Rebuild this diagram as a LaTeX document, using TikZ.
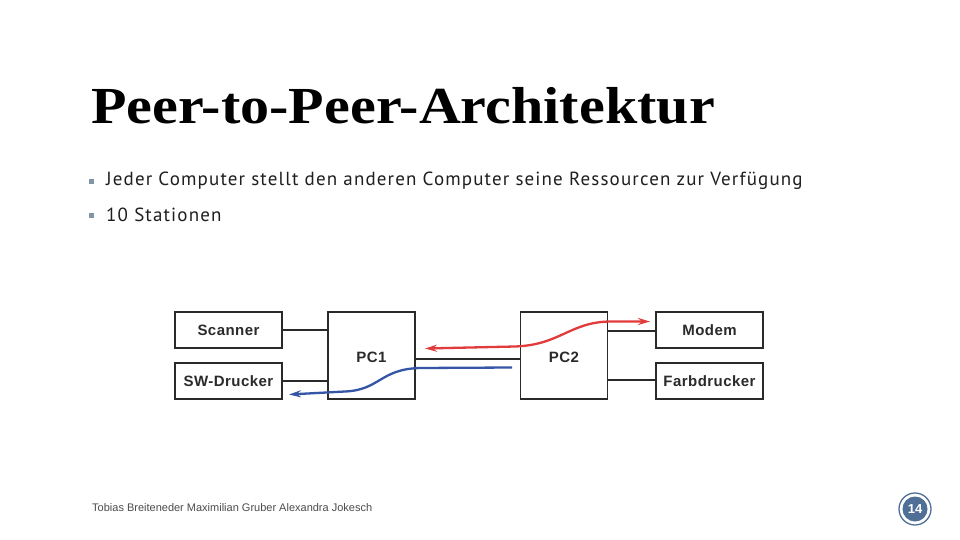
\documentclass[tikz,border=0pt]{standalone}
\usepackage{fontspec}
\setmainfont{Liberation Serif}
\newfontfamily\bodyfont[LetterSpace=6]{PT Sans}
\newfontfamily\diafont[LetterSpace=3]{Liberation Sans}
\newfontfamily\footfont{Liberation Sans}
\usetikzlibrary{arrows.meta}
\definecolor{boxline}{HTML}{2A2A2A}
\definecolor{bulletc}{HTML}{8096A8}
\definecolor{pgblue}{HTML}{4F6F96}
\definecolor{redarr}{HTML}{E23B3B}
\definecolor{bluearr}{HTML}{3556A6}
\tikzset{
  devbox/.style={draw=boxline, line width=1.4pt, minimum width=107pt, minimum height=36pt, inner sep=0pt, font=\diafont\bfseries\fontsize{15}{17}\selectfont, text=boxline},
  pcbox/.style={draw=boxline, line width=1.4pt, minimum width=87pt, minimum height=87pt, inner sep=0pt},
  pclabel/.style={font=\diafont\bfseries\fontsize{15}{17}\selectfont, text=boxline, inner sep=0pt},
  thinlink/.style={draw=boxline, line width=1.3pt},
  thicklink/.style={draw=boxline, line width=2.2pt},
  bullettext/.style={anchor=west, inner sep=0pt, font=\bodyfont\fontsize{19}{21}\selectfont, text=black!88},
  bulletsq/.style={fill=bulletc, minimum size=4.5pt, inner sep=0pt},
  flow/.style={line width=2.3pt, -{Stealth[length=12pt,width=7pt]}},
}
\begin{document}
\begin{tikzpicture}[x=1pt,y=-1pt]
\useasboundingbox (0,0) rectangle (960,540);
\fill[white] (0,0) rectangle (960,540);
% title
\node[anchor=west, inner sep=0pt, font=\bfseries\fontsize{52}{56}\selectfont] (title) at (91,106) {\scalebox{1.117}[1]{Peer-to-Peer-Architektur}};
% bullets
\node[bulletsq] (b1) at (91.5,181.5) {};
\node[bullettext] (t1) at (106,181) {Jeder Computer stellt den anderen Computer seine Ressourcen zur Verfügung};
\node[bulletsq] (b2) at (91.5,215.5) {};
\node[bullettext] (t2) at (106,215) {10 Stationen};
% boxes
\node[devbox] (scan) at (228.5,330) {Scanner};
\node[devbox] (swd) at (228.5,381) {SW-Drucker};
\node[pcbox] (pc1) at (371.5,355.5) {};
\node[pclabel] (pc1l) at (371.5,357) {PC1};
\node[pcbox] (pc2) at (564,355.5) {};
\node[pclabel] (pc2l) at (564,357) {PC2};
\node[devbox] (modem) at (709.5,330) {Modem};
\node[devbox] (farb) at (709.5,381) {Farbdrucker};
% links
\draw[thinlink] (scan.east) -- (scan.east -| pc1.west);
\draw[thicklink] (swd.east) -- (swd.east -| pc1.west);
\draw[thicklink] (pc1.east |- 0,359) coordinate (l1) -- (pc2.west |- 0,359) coordinate (l2);
\draw[thinlink] (pc2.east |- 0,331) coordinate (m1) -- (modem.west |- 0,331) coordinate (m2);
\draw[thicklink] (pc2.east |- 0,380) coordinate (f1) -- (farb.west |- 0,380) coordinate (f2);
% flows
\coordinate (rL) at (425,348.5);
\coordinate (rR) at (650,321.5);
\draw[flow, redarr, {Stealth[length=12pt,width=7pt]}-{Stealth[length=12pt,width=7pt]}] (rL) -- (515,346.5) .. controls (560,345) and (570,322) .. (610,321.5) -- (rR);
\coordinate (bR) at (512,367.5);
\coordinate (bL) at (289,394.5);
\draw[flow, bluearr] (bR) -- (420,368) .. controls (380,369) and (380,390) .. (345,391.5) -- (bL);
% footer
\node[anchor=west, inner sep=0pt, font=\footfont\fontsize{11}{12}\selectfont, text=black!70] (foot) at (92,508) {Tobias Breiteneder Maximilian Gruber Alexandra Jokesch};
\node[circle, draw=pgblue, line width=1.3pt, minimum size=32pt, inner sep=0pt] (pgring) at (915,509) {};
\node[circle, fill=pgblue, minimum size=25pt, inner sep=0pt, text=white, font=\footfont\bfseries\fontsize{13}{14}\selectfont] (pg) at (915,509) {14};
\end{tikzpicture}
\end{document}
